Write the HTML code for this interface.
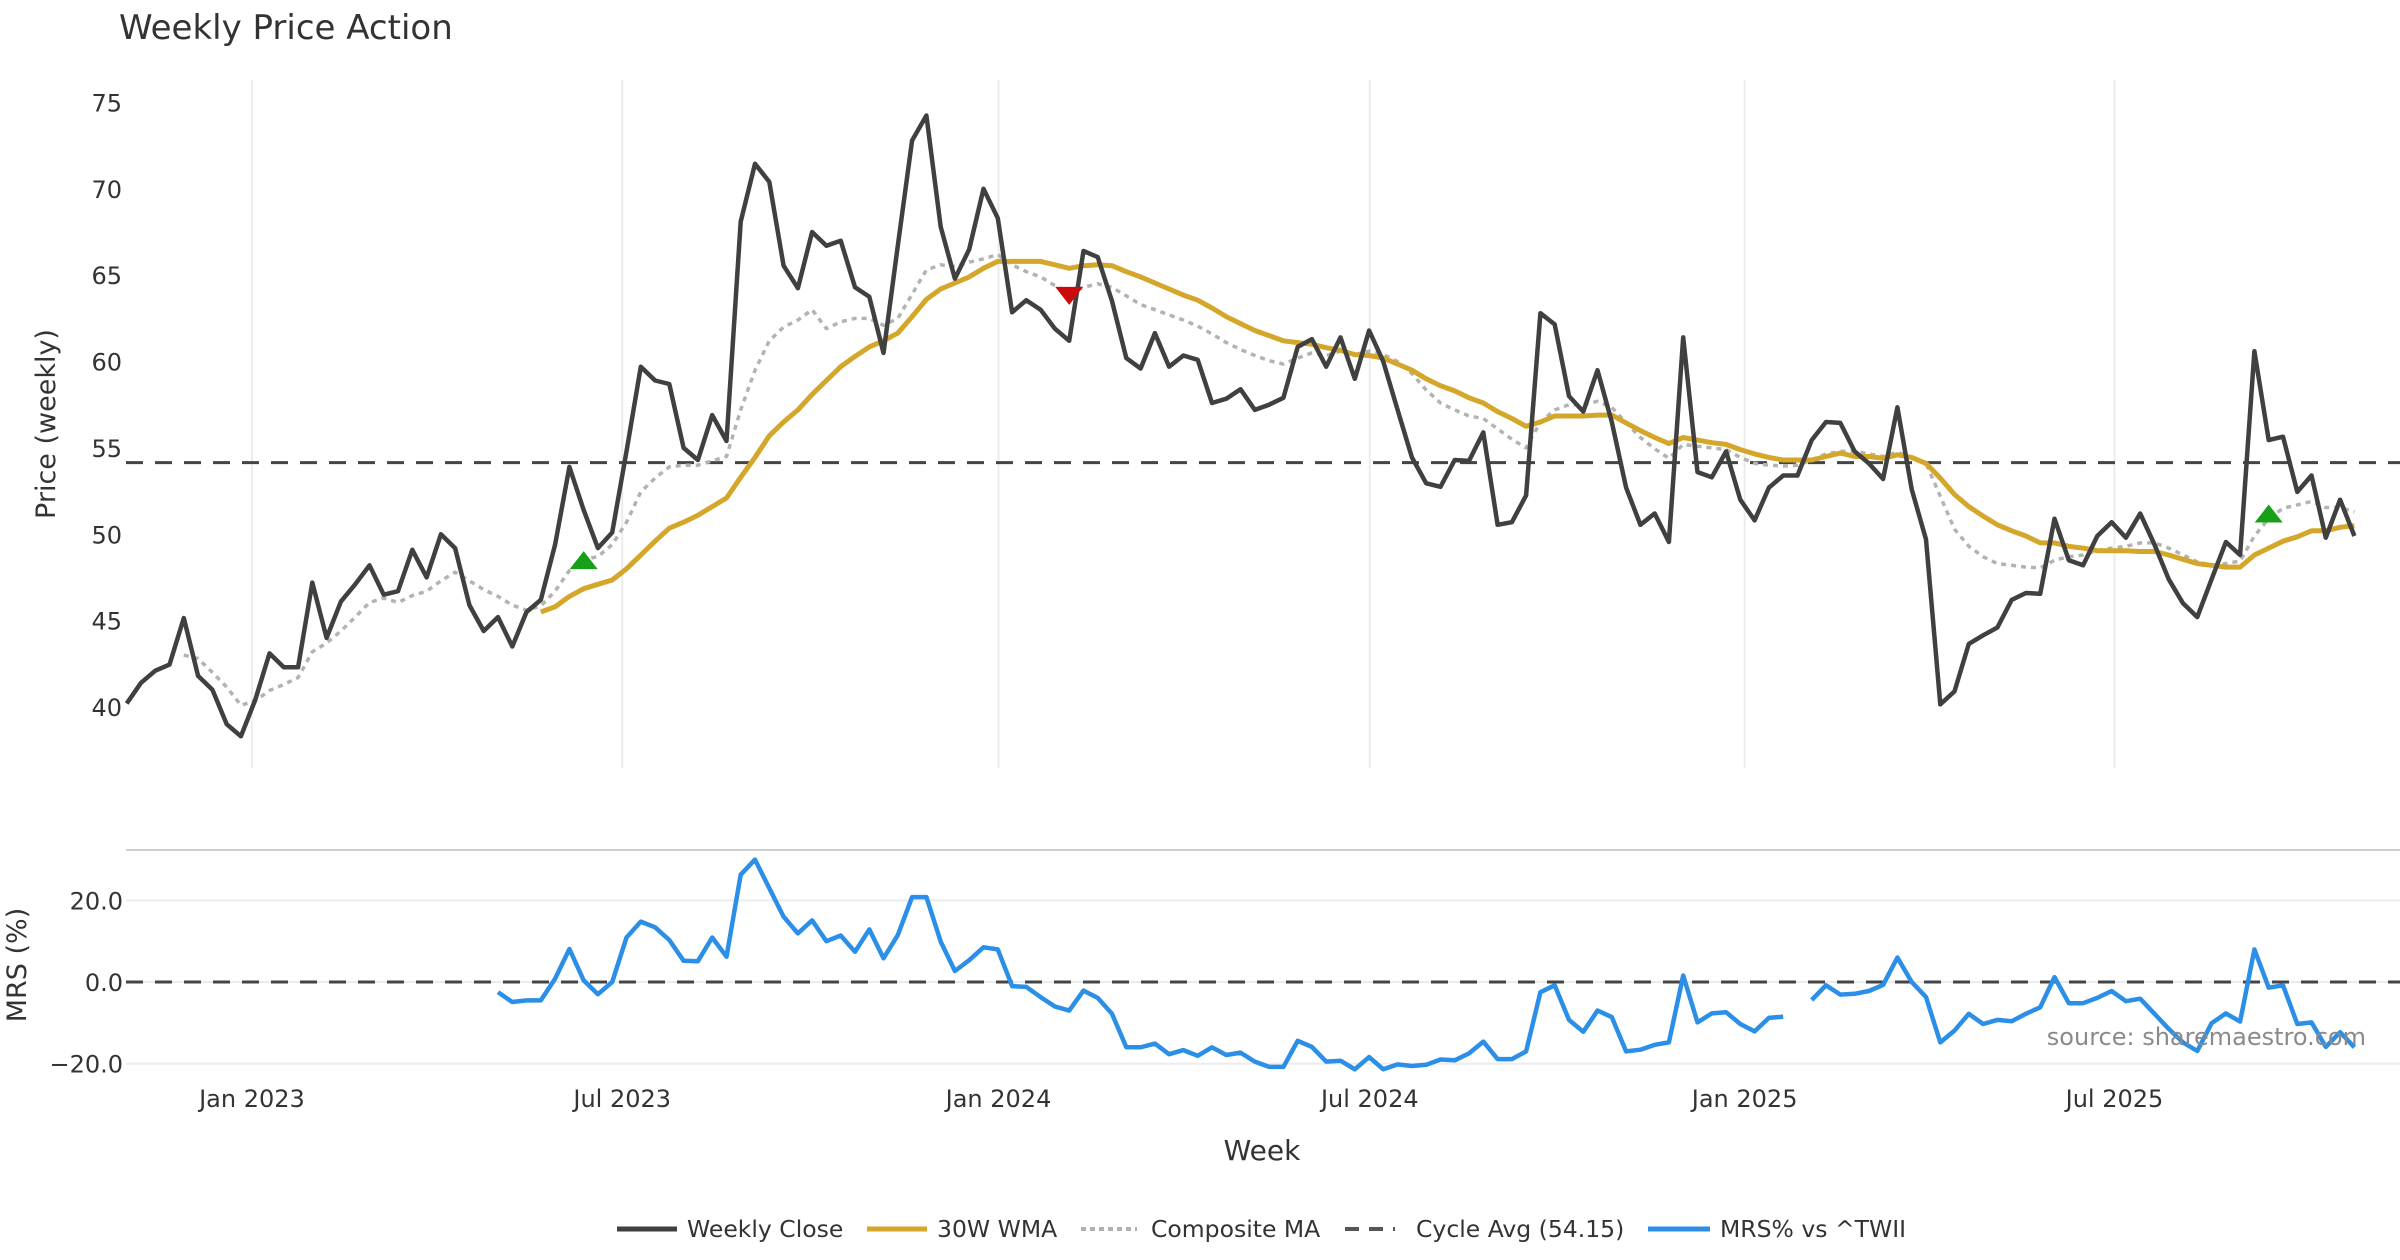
<!DOCTYPE html>
<html><head><meta charset="utf-8">
<style>
html,body{margin:0;padding:0;background:#fff;}
svg{display:block;font-family:"DejaVu Sans","Liberation Sans",sans-serif;}
</style></head>
<body>
<svg id="chart" width="2400" height="1260" viewBox="0 0 2400 1260" xmlns="http://www.w3.org/2000/svg">
<text x="119" y="39" font-size="34" fill="#333">Weekly Price Action</text>
<g id="upper"></g>
<g id="lower"></g>
<text transform="translate(55,424) rotate(-90)" text-anchor="middle" font-size="27" fill="#333">Price (weekly)</text>
<text transform="translate(26,965) rotate(-90)" text-anchor="middle" font-size="27" fill="#333">MRS (%)</text>
<text x="1262" y="1160" text-anchor="middle" font-size="28" fill="#333">Week</text>
<text x="2366" y="1045" text-anchor="end" font-size="24" fill="#8a8a8a">source: sharemaestro.com</text>
<g font-size="23.5" fill="#333">
  <g><line x1="617" y1="1229" x2="677" y2="1229" stroke="#404040" stroke-width="5"/><text x="687" y="1237">Weekly Close</text></g>
  <g><line x1="867" y1="1229" x2="927" y2="1229" stroke="#D4A62A" stroke-width="5"/><text x="937" y="1237">30W WMA</text></g>
  <g><line x1="1081" y1="1229" x2="1137" y2="1229" stroke="#b0b0b0" stroke-width="4" stroke-dasharray="5,4"/><text x="1151" y="1237">Composite MA</text></g>
  <g><line x1="1345" y1="1229" x2="1395" y2="1229" stroke="#555" stroke-width="4" stroke-dasharray="14,10"/><text x="1416" y="1237">Cycle Avg (54.15)</text></g>
  <g><line x1="1648" y1="1229" x2="1710" y2="1229" stroke="#2b8fe8" stroke-width="5"/><text x="1720" y="1237">MRS% vs ^TWII</text></g>
</g>
</svg>
<script>
const closeVals=[40.2,41.4,42.1,42.45,45.15,41.8,41.0,39.0,38.3,40.4,43.1,42.3,42.3,47.2,44.0,46.1,47.1,48.2,46.5,46.7,49.1,47.5,50.0,49.2,45.9,44.4,45.2,43.5,45.5,46.2,49.4,53.9,51.4,49.2,50.1,54.8,59.7,58.9,58.7,55.0,54.3,56.9,55.4,68.1,71.45,70.4,65.55,64.25,67.5,66.7,67.0,64.3,63.75,60.5,66.7,72.8,74.25,67.8,64.8,66.5,70.0,68.3,62.85,63.55,63.0,61.9,61.2,66.4,66.05,63.5,60.2,59.6,61.65,59.7,60.35,60.1,57.6,57.85,58.4,57.2,57.5,57.9,60.85,61.3,59.7,61.4,59.0,61.8,60.0,57.2,54.45,52.95,52.75,54.3,54.25,55.9,50.55,50.7,52.25,62.8,62.15,58.0,57.1,59.5,56.5,52.7,50.55,51.2,49.55,61.4,53.6,53.3,54.8,52.0,50.8,52.7,53.4,53.4,55.45,56.5,56.45,54.8,54.1,53.2,57.35,52.6,49.7,40.15,40.9,43.65,44.15,44.6,46.2,46.6,46.55,50.9,48.5,48.2,49.9,50.7,49.8,51.2,49.4,47.4,46.0,45.2,47.4,49.55,48.8,60.6,55.45,55.65,52.45,53.4,49.8,52.0,49.9];
const wmaStart=29;
const wmaVals=[45.5,45.8,46.4,46.85,47.1,47.35,48.0,48.8,49.6,50.35,50.7,51.1,51.6,52.1,53.3,54.45,55.7,56.5,57.2,58.1,58.9,59.7,60.3,60.85,61.2,61.65,62.6,63.6,64.2,64.55,64.9,65.4,65.8,65.8,65.8,65.8,65.6,65.4,65.55,65.6,65.55,65.2,64.9,64.55,64.2,63.85,63.55,63.1,62.6,62.2,61.8,61.5,61.2,61.1,61.0,60.8,60.65,60.4,60.35,60.2,59.85,59.5,59.0,58.6,58.3,57.9,57.6,57.1,56.7,56.25,56.5,56.85,56.85,56.85,56.9,56.9,56.45,56.0,55.6,55.25,55.6,55.45,55.3,55.2,54.9,54.65,54.45,54.3,54.3,54.3,54.5,54.7,54.5,54.5,54.4,54.6,54.45,54.1,53.25,52.3,51.6,51.05,50.55,50.2,49.9,49.5,49.5,49.3,49.2,49.05,49.05,49.05,49.0,49.0,48.8,48.55,48.3,48.2,48.1,48.1,48.8,49.2,49.6,49.85,50.2,50.2,50.4,50.5];
const compStart=4;
const compVals=[43.0,42.8,42.0,41.15,40.1,40.35,40.95,41.3,41.7,43.2,43.7,44.4,45.2,46.05,46.3,46.05,46.45,46.7,47.3,47.8,47.3,46.8,46.4,45.9,45.6,45.85,46.7,47.9,48.55,48.7,49.4,50.7,52.45,53.25,53.9,54.0,54.0,54.25,54.5,57.2,59.5,61.2,62.0,62.4,63.0,61.9,62.3,62.5,62.5,62.1,62.5,63.9,65.3,65.6,65.5,65.75,65.95,66.2,65.6,65.2,64.9,64.4,64.0,64.3,64.5,64.3,63.8,63.3,63.0,62.7,62.4,62.05,61.6,61.1,60.7,60.35,60.05,59.85,60.2,60.5,60.35,60.6,60.4,60.6,60.4,60.0,59.3,58.35,57.6,57.2,56.85,56.7,56.1,55.5,55.0,56.5,57.2,57.5,57.5,57.7,57.35,56.45,55.6,54.95,54.4,55.2,55.1,55.0,54.9,54.45,54.1,54.0,53.95,54.0,54.3,54.65,54.8,54.8,54.65,54.5,54.75,54.45,54.1,52.2,50.3,49.3,48.7,48.3,48.2,48.1,48.05,48.5,48.7,48.8,49.05,49.2,49.3,49.5,49.5,49.2,48.8,48.4,48.2,48.3,48.45,49.9,50.9,51.5,51.7,51.9,51.55,51.55,51.3];
const mrsStart=26;
const mrsVals=[-2.5,-4.9,-4.5,-4.5,0.8,8.1,0.4,-3.0,0.0,10.9,14.8,13.4,10.3,5.2,5.1,10.9,6.2,26.3,30.0,23.0,16.0,11.9,15.1,10.0,11.4,7.4,12.9,5.8,11.5,20.8,20.8,9.9,2.7,5.35,8.5,8.0,-1.0,-1.2,-3.7,-6.0,-7.0,-2.1,-3.9,-7.8,-16.0,-16.0,-15.1,-17.7,-16.7,-18.1,-16.0,-17.9,-17.3,-19.5,-20.8,-20.8,-14.4,-15.9,-19.5,-19.3,-21.4,-18.4,-21.4,-20.2,-20.6,-20.3,-19.0,-19.2,-17.5,-14.6,-18.9,-18.9,-17.0,-2.5,-0.8,-9.3,-12.2,-7.0,-8.6,-17.0,-16.6,-15.4,-14.8,1.6,-9.9,-7.7,-7.4,-10.3,-12.1,-8.8,-8.5,null,-4.4,-0.8,-3.1,-2.9,-2.2,-0.7,6.0,0.0,-3.7,-14.8,-11.9,-7.8,-10.3,-9.3,-9.6,-7.8,-6.2,1.2,-5.2,-5.2,-3.9,-2.2,-4.7,-4.1,-7.8,-11.5,-14.8,-16.9,-10.1,-7.7,-9.7,8.0,-1.4,-0.8,-10.3,-9.9,-15.9,-12.3,-16.0];
const cycleAvg=54.15;
const buyIdx=[32,150];
const buyVals=[48.5,51.2];
const sellIdx=[66];
const sellVals=[63.8];
const priceTicks=[40,45,50,55,60,65,70,75];
const mrsTicks=[-20,0,20];
const mrsTickLabels=["\u221220.0","0.0","20.0"];
const dateTickWeeks=[8.77,34.7,61.05,87.05,113.3,139.2];
const dateTickLabels=["Jan 2023","Jul 2023","Jan 2024","Jul 2024","Jan 2025","Jul 2025"];

const NS="http://www.w3.org/2000/svg";
const X0=126.7, DX=14.28;
const xs=i=>X0+DX*i;
const yP=v=>102.5+(75-v)*17.27;
const yM=m=>982-m*4.08;
function mk(parent,tag,attrs){const e=document.createElementNS(NS,tag);for(const k in attrs)e.setAttribute(k,attrs[k]);parent.appendChild(e);return e;}
const up=document.getElementById('upper'), lo=document.getElementById('lower');

dateTickWeeks.forEach((w,k)=>{
  const g=mk(up,'line',{x1:xs(w),x2:xs(w),y1:80,y2:768,stroke:'#ececf0','stroke-width':2});
  
  
  const t=mk(lo,'text',{x:xs(w),y:1107,'text-anchor':'middle','font-size':24,fill:'#333'});
  t.textContent=dateTickLabels[k];
  
  
});
priceTicks.forEach(v=>{
  const t=mk(up,'text',{x:122,y:yP(v)+9,'text-anchor':'end','font-size':24,fill:'#333'});
  t.textContent=v;
  
  
});
const border=mk(lo,'line',{x1:126,x2:2400,y1:850,y2:850,stroke:'#cfcfcf','stroke-width':2});


mrsTicks.forEach((m,k)=>{
  const g=mk(lo,'line',{x1:126,x2:2400,y1:yM(m),y2:yM(m),stroke:'#ececf0','stroke-width':2});
  
  
  const t=mk(lo,'text',{x:123,y:yM(m)+9,'text-anchor':'end','font-size':24,fill:'#333'});
  t.textContent=mrsTickLabels[k];
  
  
});
const zl=mk(lo,'line',{x1:126,x2:2400,y1:yM(0),y2:yM(0),stroke:'#444','stroke-width':3,'stroke-dasharray':'17,12'});



function path(parent,start,vals,yf,attrs,name){
  let d='',pen=false;
  vals.forEach((v,k)=>{ if(v===null){pen=false;return;} d+=(pen?'L':'M')+xs(start+k).toFixed(1)+','+yf(v).toFixed(1);pen=true;});
  const p=mk(parent,'path',Object.assign({d:d,fill:'none','stroke-linejoin':'round'},attrs));
  
  
  return p;
}
const cl=mk(up,'line',{x1:126,x2:2400,y1:yP(cycleAvg),y2:yP(cycleAvg),stroke:'#444','stroke-width':3,'stroke-dasharray':'17,12'});


path(up,compStart,compVals,yP,{stroke:'#b3b3b3','stroke-width':3.5,'stroke-dasharray':'5,5'},'composite-ma-line');
path(up,wmaStart,wmaVals,yP,{stroke:'#D4A62A','stroke-width':5},'wma-line');
path(up,0,closeVals,yP,{stroke:'#404040','stroke-width':4.5},'weekly-close-line');
path(lo,mrsStart,mrsVals,yM,{stroke:'#2b8fe8','stroke-width':4.5},'mrs-line');
buyIdx.forEach((i,k)=>{
  const x=xs(i),y=yP(buyVals[k]);
  const t=mk(up,'polygon',{points:`${x-14},${y+9} ${x+14},${y+9} ${x},${y-9}`,fill:'#17a017'});
  
  
});
sellIdx.forEach((i,k)=>{
  const x=xs(i),y=yP(sellVals[k]);
  const t=mk(up,'polygon',{points:`${x-14},${y-9} ${x+14},${y-9} ${x},${y+9}`,fill:'#cc0a0a'});
  
  
});
</script>
</body></html>
